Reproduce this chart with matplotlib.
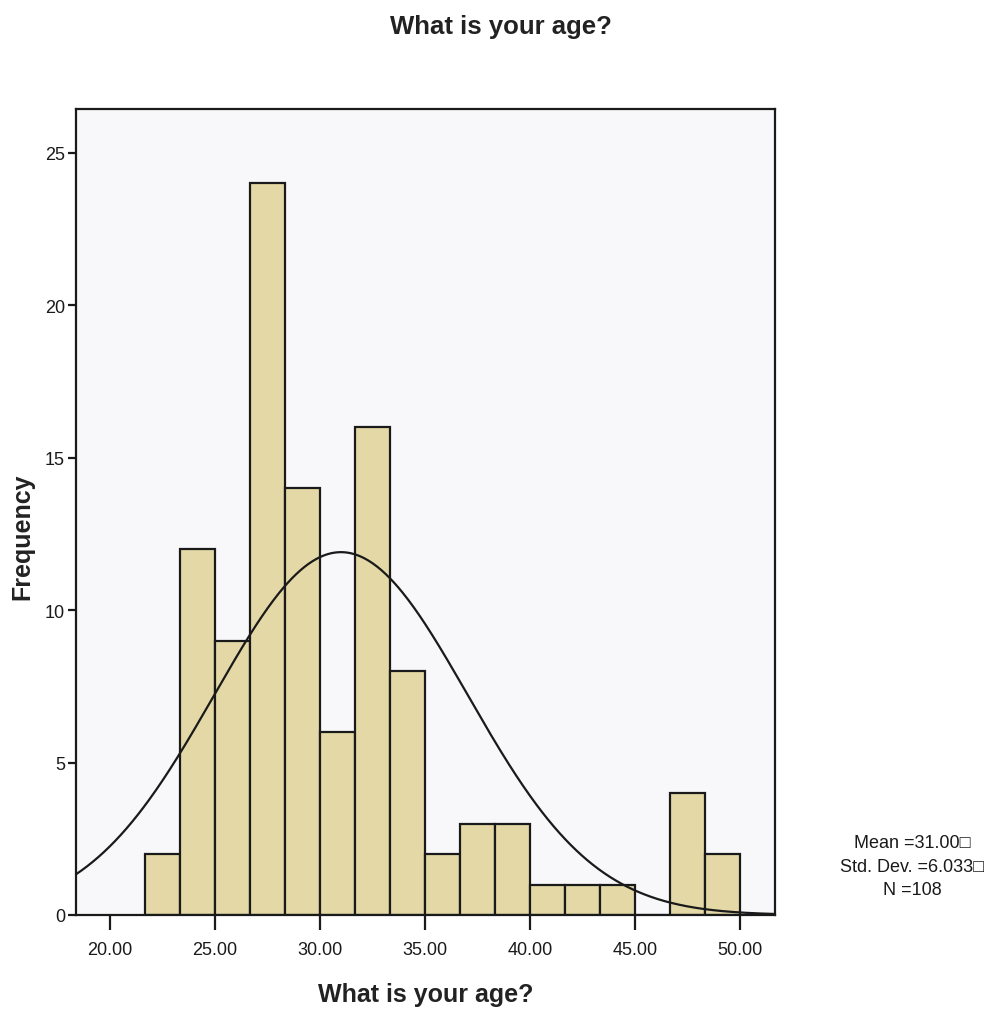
import numpy as np
import matplotlib
matplotlib.use("Agg")
import matplotlib.pyplot as plt

plt.rcParams['font.family'] = ['Liberation Sans', 'DejaVu Sans']

# Data
bin_start = 65 / 3.0          # 21.667
bin_width = 5 / 3.0           # 1.667
counts = [2, 12, 9, 24, 14, 6, 16, 8, 2, 3, 3, 1, 1, 1, 0, 4, 2]
mean_val = 31.00
sd_val = 6.033
n_val = 108
x_ticks = [20, 25, 30, 35, 40, 45, 50]
x_tick_labels = ["20.00", "25.00", "30.00", "35.00", "40.00", "45.00", "50.00"]
y_ticks = [0, 5, 10, 15, 20, 25]

fig = plt.figure(figsize=(10.02, 10.12), dpi=100)
ax = fig.add_axes([76/1002, 1-916/1012, (775-76)/1002, (916-110)/1012])
ax.set_facecolor('#F8F8FB')

edges = bin_start + bin_width * np.arange(len(counts) + 1)
lefts = edges[:-1]
ax.bar(lefts, counts, width=bin_width, align='edge', color='#E4D9A6',
       edgecolor='#1a1a1a', linewidth=1.6, zorder=2)

xs = np.linspace(18.38, 51.67, 500)
ys = n_val * bin_width / (sd_val * np.sqrt(2 * np.pi)) * np.exp(-0.5 * ((xs - mean_val) / sd_val) ** 2)
ax.plot(xs, ys, color='#1a1a1a', linewidth=1.6, zorder=3)

ax.set_xlim(18.38, 51.67)
ax.set_ylim(0, 26.44)
ax.set_xticks(x_ticks)
ax.set_xticklabels(x_tick_labels)
ax.set_yticks(y_ticks)

for s in ax.spines.values():
    s.set_linewidth(1.6)
    s.set_color('#1a1a1a')

ax.tick_params(axis='x', length=11, width=1.6, pad=8, labelsize=13, colors='#1a1a1a')
ax.tick_params(axis='y', length=6, width=1.6, pad=2, labelsize=13, colors='#1a1a1a')

ax.set_xlabel("What is your age?", fontsize=18, fontweight='bold', labelpad=17, color='#222222')
fig.text(22/1002, 1-537/1012, "Frequency", rotation=90, ha='center', va='center',
         fontsize=18, fontweight='bold', color='#222222')
fig.text(0.5, 1-27/1012, "What is your age?", ha='center', va='center',
         fontsize=18.5, fontweight='bold', color='#222222')

fig.text(912/1002, 1-867/1012, "Mean =31.00\u25a1\nStd. Dev. =6.033\u25a1\nN =108",
         ha='center', va='center', fontsize=13, linespacing=1.5, color='#1a1a1a')

fig.savefig("out.png", dpi=100, facecolor='white')
